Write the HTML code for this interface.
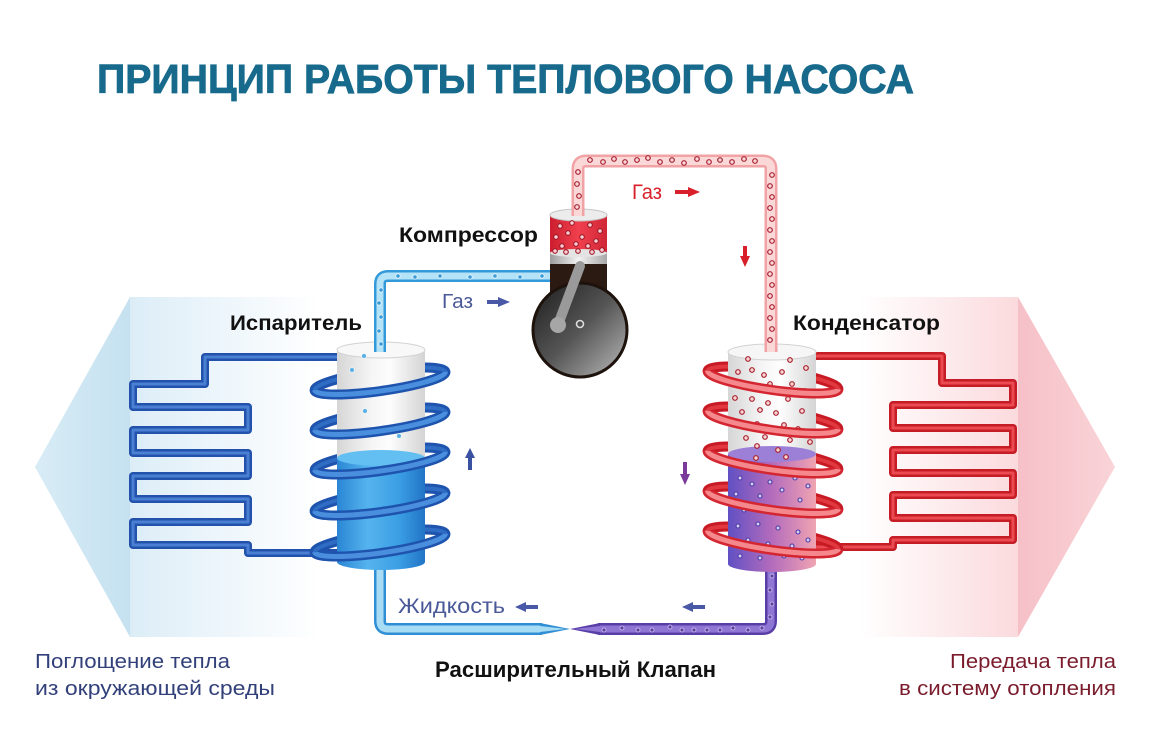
<!DOCTYPE html>
<html><head><meta charset="utf-8">
<style>html,body{margin:0;padding:0;background:#fff;width:1151px;height:740px;overflow:hidden}</style>
</head><body>
<svg width="1151" height="740" viewBox="0 0 1151 740" xmlns="http://www.w3.org/2000/svg" font-family="'Liberation Sans', sans-serif">
<defs>
  <linearGradient id="gLT" gradientUnits="userSpaceOnUse" x1="35" y1="0" x2="130" y2="0"><stop offset="0" stop-color="#d8ecf6"/><stop offset="1" stop-color="#c5e1f0"/></linearGradient>
  <linearGradient id="gLR" gradientUnits="userSpaceOnUse" x1="130" y1="0" x2="320" y2="0"><stop offset="0" stop-color="#dcedf7"/><stop offset="1" stop-color="#ffffff"/></linearGradient>
  <linearGradient id="gRT" gradientUnits="userSpaceOnUse" x1="1018" y1="0" x2="1115" y2="0"><stop offset="0" stop-color="#f6c0c7"/><stop offset="1" stop-color="#f9d4d8"/></linearGradient>
  <linearGradient id="gRR" gradientUnits="userSpaceOnUse" x1="860" y1="0" x2="1018" y2="0"><stop offset="0" stop-color="#ffffff"/><stop offset="1" stop-color="#fbdadd"/></linearGradient>
  <linearGradient id="gCylTop" x1="0" y1="0" x2="1" y2="0"><stop offset="0" stop-color="#d6d6d6"/><stop offset="0.4" stop-color="#f6f6f6"/><stop offset="0.6" stop-color="#fdfdfd"/><stop offset="1" stop-color="#d4d4d4"/></linearGradient>
  <linearGradient id="gEvap" x1="0" y1="0" x2="1" y2="0"><stop offset="0" stop-color="#2a86d4"/><stop offset="0.35" stop-color="#55b4ee"/><stop offset="0.7" stop-color="#3b9fe4"/><stop offset="1" stop-color="#2274c6"/></linearGradient>
  <linearGradient id="gCond" x1="0" y1="0" x2="1" y2="0"><stop offset="0" stop-color="#6050c4"/><stop offset="0.5" stop-color="#b46cbc"/><stop offset="1" stop-color="#f0a4b2"/></linearGradient>
  <linearGradient id="gCirc" x1="0" y1="0" x2="1" y2="1"><stop offset="0" stop-color="#1c1c1c"/><stop offset="0.5" stop-color="#555"/><stop offset="1" stop-color="#bcbcbc"/></linearGradient>
  <linearGradient id="gRed" x1="0" y1="0" x2="1" y2="0"><stop offset="0" stop-color="#cc1e2e"/><stop offset="0.5" stop-color="#f0404e"/><stop offset="1" stop-color="#d02636"/></linearGradient>
  <linearGradient id="gRing" x1="0" y1="0" x2="1" y2="0"><stop offset="0" stop-color="#9c9c9c"/><stop offset="0.5" stop-color="#f2f2f2"/><stop offset="1" stop-color="#a8a8a8"/></linearGradient>
</defs>
<rect width="1151" height="740" fill="#fff"/>

<!-- big arrows -->
<polygon points="35,467 130,297 130,637" fill="url(#gLT)"/>
<rect x="130" y="297" width="190" height="340" fill="url(#gLR)"/>
<rect x="860" y="297" width="158" height="340" fill="url(#gRR)"/>
<polygon points="1018,297 1115,467 1018,637" fill="url(#gRT)"/>

<!-- title -->
<text x="97" y="93" font-size="41" font-weight="bold" fill="#176a8c" stroke="#176a8c" stroke-width="0.8" textLength="817" lengthAdjust="spacingAndGlyphs">ПРИНЦИП РАБОТЫ ТЕПЛОВОГО НАСОСА</text>

<!-- serpentines -->
<g fill="none" stroke-linejoin="round" stroke-linecap="round">
  <polyline points="345,357 205,357 205,384 133,384 133,407 248,407 248,430 133,430 133,453 248,453 248,476 133,476 133,499 248,499 248,522 133,522 133,545 248,545 248,553 345,553" stroke="#2252ac" stroke-width="8"/>
  <polyline points="345,357 205,357 205,384 133,384 133,407 248,407 248,430 133,430 133,453 248,453 248,476 133,476 133,499 248,499 248,522 133,522 133,545 248,545 248,553 345,553" stroke="#4a80d2" stroke-width="3"/>
  <polyline points="760,356 942,356 942,383 1013,383 1013,405 893,405 893,428 1013,428 1013,450 893,450 893,473 1013,473 1013,495 893,495 893,518 1013,518 1013,540 893,540 893,547 760,547" stroke="#c61c26" stroke-width="8"/>
  <polyline points="760,356 942,356 942,383 1013,383 1013,405 893,405 893,428 1013,428 1013,450 893,450 893,473 1013,473 1013,495 893,495 893,518 1013,518 1013,540 893,540 893,547 760,547" stroke="#ea4a50" stroke-width="3"/>
</g>

<!-- back coils -->
<g fill="none">
  <g stroke="#1e54ae" stroke-width="10">
    <ellipse rx="66" ry="10" transform="translate(380,381) rotate(-8)"/>
    <ellipse rx="66" ry="10" transform="translate(380,421) rotate(-8)"/>
    <ellipse rx="66" ry="10" transform="translate(380,461) rotate(-8)"/>
    <ellipse rx="66" ry="10" transform="translate(380,502) rotate(-8)"/>
    <ellipse rx="66" ry="10" transform="translate(380,543) rotate(-8)"/>
  </g>
  <g stroke="#2f6cc4" stroke-width="4">
    <ellipse rx="66" ry="10" transform="translate(380,381) rotate(-8)"/>
    <ellipse rx="66" ry="10" transform="translate(380,421) rotate(-8)"/>
    <ellipse rx="66" ry="10" transform="translate(380,461) rotate(-8)"/>
    <ellipse rx="66" ry="10" transform="translate(380,502) rotate(-8)"/>
    <ellipse rx="66" ry="10" transform="translate(380,543) rotate(-8)"/>
  </g>
  <g stroke="#c81a24" stroke-width="10">
    <ellipse rx="66" ry="10" transform="translate(773,380) rotate(8)"/>
    <ellipse rx="66" ry="10" transform="translate(773,420) rotate(8)"/>
    <ellipse rx="66" ry="10" transform="translate(773,460) rotate(8)"/>
    <ellipse rx="66" ry="10" transform="translate(773,500) rotate(8)"/>
    <ellipse rx="66" ry="10" transform="translate(773,540) rotate(8)"/>
  </g>
  <g stroke="#e0383e" stroke-width="4">
    <ellipse rx="66" ry="10" transform="translate(773,380) rotate(8)"/>
    <ellipse rx="66" ry="10" transform="translate(773,420) rotate(8)"/>
    <ellipse rx="66" ry="10" transform="translate(773,460) rotate(8)"/>
    <ellipse rx="66" ry="10" transform="translate(773,500) rotate(8)"/>
    <ellipse rx="66" ry="10" transform="translate(773,540) rotate(8)"/>
  </g>
</g>

<!-- bottom pipes -->
<g fill="none" stroke-linejoin="round">
  <path d="M380 560 L380 621 Q380 629 388 629 L542 629" stroke="#2f8ed4" stroke-width="12"/>
  <path d="M380 560 L380 621 Q380 629 388 629 L542 629" stroke="#a8dcf4" stroke-width="7"/>
  <path d="M771 560 L771 621 Q771 629 763 629 L598 629" stroke="#5a3ea8" stroke-width="12"/>
  <path d="M771 560 L771 621 Q771 629 763 629 L598 629" stroke="#8e76d4" stroke-width="7"/>
</g>
<polygon points="540,623 570,629 540,635" fill="#2f8ed4"/>
<polygon points="540,626 566,629 540,632" fill="#a8dcf4"/>
<polygon points="600,623 570,629 600,635" fill="#5a3ea8"/>
<polygon points="600,626 574,629 600,632" fill="#8e76d4"/>

<!-- blue top pipe -->
<path d="M380 352 L380 284 Q380 276 388 276 L552 276" fill="none" stroke="#3399d8" stroke-width="12" stroke-linejoin="round"/>
<path d="M380 352 L380 284 Q380 276 388 276 L552 276" fill="none" stroke="#b4e2f6" stroke-width="7" stroke-linejoin="round"/>

<!-- evaporator cylinder -->
<rect x="337" y="350" width="88" height="108" fill="url(#gCylTop)"/>
<path d="M337 458 L337 562 A44 8 0 0 0 425 562 L425 458 Z" fill="url(#gEvap)"/>
<ellipse cx="381" cy="458" rx="44" ry="8" fill="#63bef1"/>
<ellipse cx="381" cy="350" rx="44" ry="8" fill="#f8f8f8" stroke="#d2d2d2" stroke-width="1"/>

<!-- condenser cylinder -->
<rect x="728" y="352" width="88" height="102" fill="url(#gCylTop)"/>
<path d="M728 454 L728 564 A44 8 0 0 0 816 564 L816 454 Z" fill="url(#gCond)"/>
<ellipse cx="772" cy="454" rx="44" ry="8" fill="#9c80d8"/>
<ellipse cx="772" cy="352" rx="44" ry="8" fill="#f6f6f6" stroke="#d2d2d2" stroke-width="1"/>

<!-- blue pipe end over top -->
<path d="M380 352 L380 330" fill="none" stroke="#3399d8" stroke-width="12"/>
<path d="M380 352 L380 330" fill="none" stroke="#b4e2f6" stroke-width="7"/>

<!-- condenser dots -->
<g fill="#f6d6d6" stroke="#a8202e" stroke-width="1.2">
  <circle cx="748" cy="359" r="2.3"/><circle cx="790" cy="360" r="2.3"/><circle cx="738" cy="372" r="2.3"/><circle cx="752" cy="370" r="2.3"/><circle cx="764" cy="375" r="2.3"/><circle cx="782" cy="372" r="2.3"/><circle cx="806" cy="368" r="2.3"/><circle cx="742" cy="386" r="2.3"/><circle cx="770" cy="384" r="2.3"/><circle cx="792" cy="384" r="2.3"/><circle cx="805" cy="391" r="2.3"/><circle cx="735" cy="398" r="2.3"/><circle cx="752" cy="399" r="2.3"/><circle cx="768" cy="403" r="2.3"/><circle cx="788" cy="399" r="2.3"/><circle cx="742" cy="412" r="2.3"/><circle cx="760" cy="410" r="2.3"/><circle cx="776" cy="413" r="2.3"/><circle cx="802" cy="411" r="2.3"/><circle cx="736" cy="425" r="2.3"/><circle cx="757" cy="424" r="2.3"/><circle cx="784" cy="425" r="2.3"/><circle cx="798" cy="429" r="2.3"/><circle cx="746" cy="438" r="2.3"/><circle cx="765" cy="437" r="2.3"/><circle cx="790" cy="440" r="2.3"/><circle cx="810" cy="442" r="2.3"/><circle cx="757" cy="446" r="2.3"/><circle cx="778" cy="450" r="2.3"/><circle cx="756" cy="458" r="2.3"/><circle cx="786" cy="457" r="2.3"/>
</g>
<g fill="#d8d0f4" stroke="#4a3aa8" stroke-width="1.1">
  <circle cx="740" cy="478" r="2"/><circle cx="752" cy="484" r="2"/><circle cx="770" cy="482" r="2"/><circle cx="795" cy="478" r="2"/><circle cx="808" cy="486" r="2"/><circle cx="736" cy="494" r="2"/><circle cx="760" cy="496" r="2"/><circle cx="782" cy="490" r="2"/><circle cx="800" cy="500" r="2"/><circle cx="744" cy="510" r="2"/><circle cx="768" cy="508" r="2"/><circle cx="790" cy="514" r="2"/><circle cx="808" cy="516" r="2"/><circle cx="738" cy="526" r="2"/><circle cx="758" cy="524" r="2"/><circle cx="778" cy="528" r="2"/><circle cx="798" cy="532" r="2"/><circle cx="748" cy="540" r="2"/><circle cx="768" cy="544" r="2"/><circle cx="792" cy="546" r="2"/><circle cx="808" cy="540" r="2"/><circle cx="740" cy="556" r="2"/><circle cx="760" cy="558" r="2"/><circle cx="784" cy="556" r="2"/><circle cx="802" cy="558" r="2"/>
</g>
<!-- evaporator bubbles -->
<g fill="#5ab0e4" stroke="#e8f6fc" stroke-width="0.8">
  <circle cx="364" cy="356" r="2.4"/><circle cx="352" cy="370" r="2.4"/><circle cx="365" cy="411" r="2.4"/><circle cx="354" cy="436" r="2.4"/><circle cx="399" cy="436" r="2.4"/><circle cx="403" cy="385" r="2.4"/>
</g>

<!-- front coils -->
<g fill="none">
  <g stroke="#1e54ae" stroke-width="10">
    <path d="M-66 0 A66 10 0 0 0 66 0" transform="translate(380,381) rotate(-8)"/>
    <path d="M-66 0 A66 10 0 0 0 66 0" transform="translate(380,421) rotate(-8)"/>
    <path d="M-66 0 A66 10 0 0 0 66 0" transform="translate(380,461) rotate(-8)"/>
    <path d="M-66 0 A66 10 0 0 0 66 0" transform="translate(380,502) rotate(-8)"/>
    <path d="M-66 0 A66 10 0 0 0 66 0" transform="translate(380,543) rotate(-8)"/>
  </g>
  <g stroke="#4a8ede" stroke-width="5">
    <path d="M-66 0 A66 10 0 0 0 66 0" transform="translate(380,381) rotate(-8)"/>
    <path d="M-66 0 A66 10 0 0 0 66 0" transform="translate(380,421) rotate(-8)"/>
    <path d="M-66 0 A66 10 0 0 0 66 0" transform="translate(380,461) rotate(-8)"/>
    <path d="M-66 0 A66 10 0 0 0 66 0" transform="translate(380,502) rotate(-8)"/>
    <path d="M-66 0 A66 10 0 0 0 66 0" transform="translate(380,543) rotate(-8)"/>
  </g>
  <g stroke="#d42630" stroke-width="10">
    <path d="M-66 0 A66 10 0 0 0 66 0" transform="translate(773,380) rotate(8)"/>
    <path d="M-66 0 A66 10 0 0 0 66 0" transform="translate(773,420) rotate(8)"/>
    <path d="M-66 0 A66 10 0 0 0 66 0" transform="translate(773,460) rotate(8)"/>
    <path d="M-66 0 A66 10 0 0 0 66 0" transform="translate(773,500) rotate(8)"/>
    <path d="M-66 0 A66 10 0 0 0 66 0" transform="translate(773,540) rotate(8)"/>
  </g>
  <g stroke="#f5888c" stroke-width="5">
    <path d="M-66 0 A66 10 0 0 0 66 0" transform="translate(773,380) rotate(8)"/>
    <path d="M-66 0 A66 10 0 0 0 66 0" transform="translate(773,420) rotate(8)"/>
    <path d="M-66 0 A66 10 0 0 0 66 0" transform="translate(773,460) rotate(8)"/>
    <path d="M-66 0 A66 10 0 0 0 66 0" transform="translate(773,500) rotate(8)"/>
    <path d="M-66 0 A66 10 0 0 0 66 0" transform="translate(773,540) rotate(8)"/>
  </g>
</g>

<!-- compressor -->
<rect x="550" y="258" width="57" height="45" fill="#2b1a12"/>
<circle cx="580" cy="330" r="47" fill="url(#gCirc)" stroke="#1e120c" stroke-width="3"/>
<rect x="550" y="215" width="57" height="38" fill="url(#gRed)"/>
<rect x="550" y="253" width="57" height="11" fill="url(#gRing)"/>
<ellipse cx="578.5" cy="253" rx="28.5" ry="4" fill="#e4e4e4"/>
<ellipse cx="578.5" cy="215" rx="28.5" ry="6" fill="#ececec" stroke="#c4c4c4" stroke-width="1"/>
<line x1="559" y1="322" x2="580" y2="266" stroke="#9a9a9a" stroke-width="10" stroke-linecap="round"/>
<circle cx="558" cy="325" r="8" fill="#a6a6a6"/>
<circle cx="580" cy="324" r="3.5" fill="none" stroke="#dcdcdc" stroke-width="1.6"/>
<g fill="#f8d0d4" stroke="#a01828" stroke-width="1.1">
  <circle cx="560" cy="226" r="2.3"/><circle cx="572" cy="223" r="2.3"/><circle cx="590" cy="225" r="2.3"/><circle cx="600" cy="231" r="2.3"/><circle cx="556" cy="237" r="2.3"/><circle cx="568" cy="233" r="2.3"/><circle cx="582" cy="237" r="2.3"/><circle cx="596" cy="241" r="2.3"/><circle cx="562" cy="246" r="2.3"/><circle cx="576" cy="244" r="2.3"/><circle cx="588" cy="246" r="2.3"/><circle cx="555" cy="251" r="2.3"/><circle cx="566" cy="252" r="2.3"/><circle cx="578" cy="251" r="2.3"/><circle cx="592" cy="252" r="2.3"/><circle cx="602" cy="250" r="2.3"/>
</g>

<!-- red top pipe -->
<path d="M578 216 L578 169 Q578 161 586 161 L763 161 Q771 161 771 169 L771 352" fill="none" stroke="#f0a2a4" stroke-width="13" stroke-linejoin="round"/>
<path d="M578 216 L578 169 Q578 161 586 161 L763 161 Q771 161 771 169 L771 352" fill="none" stroke="#fbd8d8" stroke-width="8" stroke-linejoin="round"/>
<g fill="#f8d8d8" stroke="#a82030" stroke-width="1.2">
  <circle cx="578" cy="172" r="2.3"/><circle cx="577" cy="184" r="2.3"/><circle cx="579" cy="196" r="2.3"/><circle cx="577" cy="207" r="2.3"/>
  <circle cx="590" cy="160" r="2.3"/><circle cx="603" cy="162" r="2.3"/><circle cx="614" cy="159" r="2.3"/><circle cx="625" cy="162" r="2.3"/><circle cx="637" cy="160" r="2.3"/><circle cx="648" cy="158" r="2.3"/><circle cx="660" cy="162" r="2.3"/><circle cx="672" cy="160" r="2.3"/><circle cx="684" cy="163" r="2.3"/><circle cx="697" cy="159" r="2.3"/><circle cx="709" cy="162" r="2.3"/><circle cx="720" cy="160" r="2.3"/><circle cx="732" cy="162" r="2.3"/><circle cx="744" cy="159" r="2.3"/><circle cx="755" cy="161" r="2.3"/>
  <circle cx="772" cy="175" r="2.3"/><circle cx="770" cy="186" r="2.3"/><circle cx="772" cy="197" r="2.3"/><circle cx="770" cy="208" r="2.3"/><circle cx="772" cy="219" r="2.3"/><circle cx="770" cy="230" r="2.3"/><circle cx="772" cy="241" r="2.3"/><circle cx="770" cy="252" r="2.3"/><circle cx="772" cy="263" r="2.3"/><circle cx="770" cy="274" r="2.3"/><circle cx="772" cy="285" r="2.3"/><circle cx="770" cy="296" r="2.3"/><circle cx="772" cy="307" r="2.3"/><circle cx="770" cy="318" r="2.3"/><circle cx="772" cy="329" r="2.3"/><circle cx="770" cy="340" r="2.3"/>
</g>

<!-- blue pipe bubbles -->
<g fill="#3a9ad8" stroke="#e8f6fc" stroke-width="0.8">
  <circle cx="381" cy="290" r="2.2"/><circle cx="379" cy="303" r="2.2"/><circle cx="381" cy="317" r="2.2"/><circle cx="379" cy="331" r="2.2"/><circle cx="381" cy="344" r="2.2"/>
  <circle cx="398" cy="276" r="2.2"/><circle cx="415" cy="277" r="2.2"/><circle cx="440" cy="276" r="2.2"/><circle cx="470" cy="277" r="2.2"/><circle cx="495" cy="276" r="2.2"/><circle cx="520" cy="277" r="2.2"/><circle cx="542" cy="276" r="2.2"/>
</g>
<!-- purple pipe bubbles -->
<g fill="#5a40a0" stroke="#d0c4f2" stroke-width="0.8">
  <circle cx="604" cy="630" r="2"/><circle cx="622" cy="628" r="2"/><circle cx="638" cy="630" r="2"/><circle cx="652" cy="630" r="2"/><circle cx="670" cy="627" r="2"/><circle cx="682" cy="630" r="2"/><circle cx="694" cy="630" r="2"/><circle cx="707" cy="630" r="2"/><circle cx="720" cy="630" r="2"/><circle cx="733" cy="628" r="2"/><circle cx="748" cy="630" r="2"/><circle cx="762" cy="628" r="2"/>
  <circle cx="772" cy="576" r="2"/><circle cx="770" cy="590" r="2"/><circle cx="772" cy="604" r="2"/><circle cx="770" cy="617" r="2"/>
</g>

<!-- small arrows -->
<g>
  <line x1="675" y1="192" x2="690" y2="192" stroke="#d8202a" stroke-width="4"/>
  <polygon points="688,187 700,192 688,197" fill="#d8202a"/>
  <line x1="745" y1="246" x2="745" y2="258" stroke="#d8202a" stroke-width="4"/>
  <polygon points="740,256 745,267 750,256" fill="#d8202a"/>
  <line x1="487" y1="302" x2="500" y2="302" stroke="#4a58a8" stroke-width="4"/>
  <polygon points="498,297 510,302 498,307" fill="#4a58a8"/>
  <line x1="470" y1="456" x2="470" y2="470" stroke="#3a50a0" stroke-width="4"/>
  <polygon points="465,458 470,448 475,458" fill="#3a50a0"/>
  <line x1="685" y1="462" x2="685" y2="476" stroke="#7a3a9a" stroke-width="4"/>
  <polygon points="680,474 685,485 690,474" fill="#7a3a9a"/>
  <line x1="524" y1="607" x2="538" y2="607" stroke="#4a58a8" stroke-width="4"/>
  <polygon points="526,602 515,607 526,612" fill="#4a58a8"/>
  <line x1="691" y1="607" x2="705" y2="607" stroke="#4a58a8" stroke-width="4"/>
  <polygon points="693,602 682,607 693,612" fill="#4a58a8"/>
</g>

<!-- labels -->
<g font-weight="bold" fill="#111">
  <text x="399" y="242" font-size="21" textLength="139" lengthAdjust="spacingAndGlyphs">Компрессор</text>
  <text x="230" y="330" font-size="21" textLength="132" lengthAdjust="spacingAndGlyphs">Испаритель</text>
  <text x="793" y="330" font-size="21" textLength="147" lengthAdjust="spacingAndGlyphs">Конденсатор</text>
  <text x="435" y="677" font-size="22" textLength="281" lengthAdjust="spacingAndGlyphs">Расширительный Клапан</text>
</g>
<text x="632" y="199" font-size="21" fill="#d8202a" textLength="30" lengthAdjust="spacingAndGlyphs">Газ</text>
<text x="442" y="308" font-size="20" fill="#4a5a98" textLength="31" lengthAdjust="spacingAndGlyphs">Газ</text>
<text x="398" y="613" font-size="21" fill="#4a5a98" textLength="107" lengthAdjust="spacingAndGlyphs">Жидкость</text>

<g font-size="20" fill="#33417a">
  <text x="35" y="668" textLength="195" lengthAdjust="spacingAndGlyphs">Поглощение тепла</text>
  <text x="35" y="695" textLength="240" lengthAdjust="spacingAndGlyphs">из окружающей среды</text>
</g>
<g font-size="20" fill="#7a1c2c" text-anchor="end">
  <text x="1116" y="668" textLength="166" lengthAdjust="spacingAndGlyphs">Передача тепла</text>
  <text x="1116" y="695" textLength="217" lengthAdjust="spacingAndGlyphs">в систему отопления</text>
</g>
</svg>
</body></html>
